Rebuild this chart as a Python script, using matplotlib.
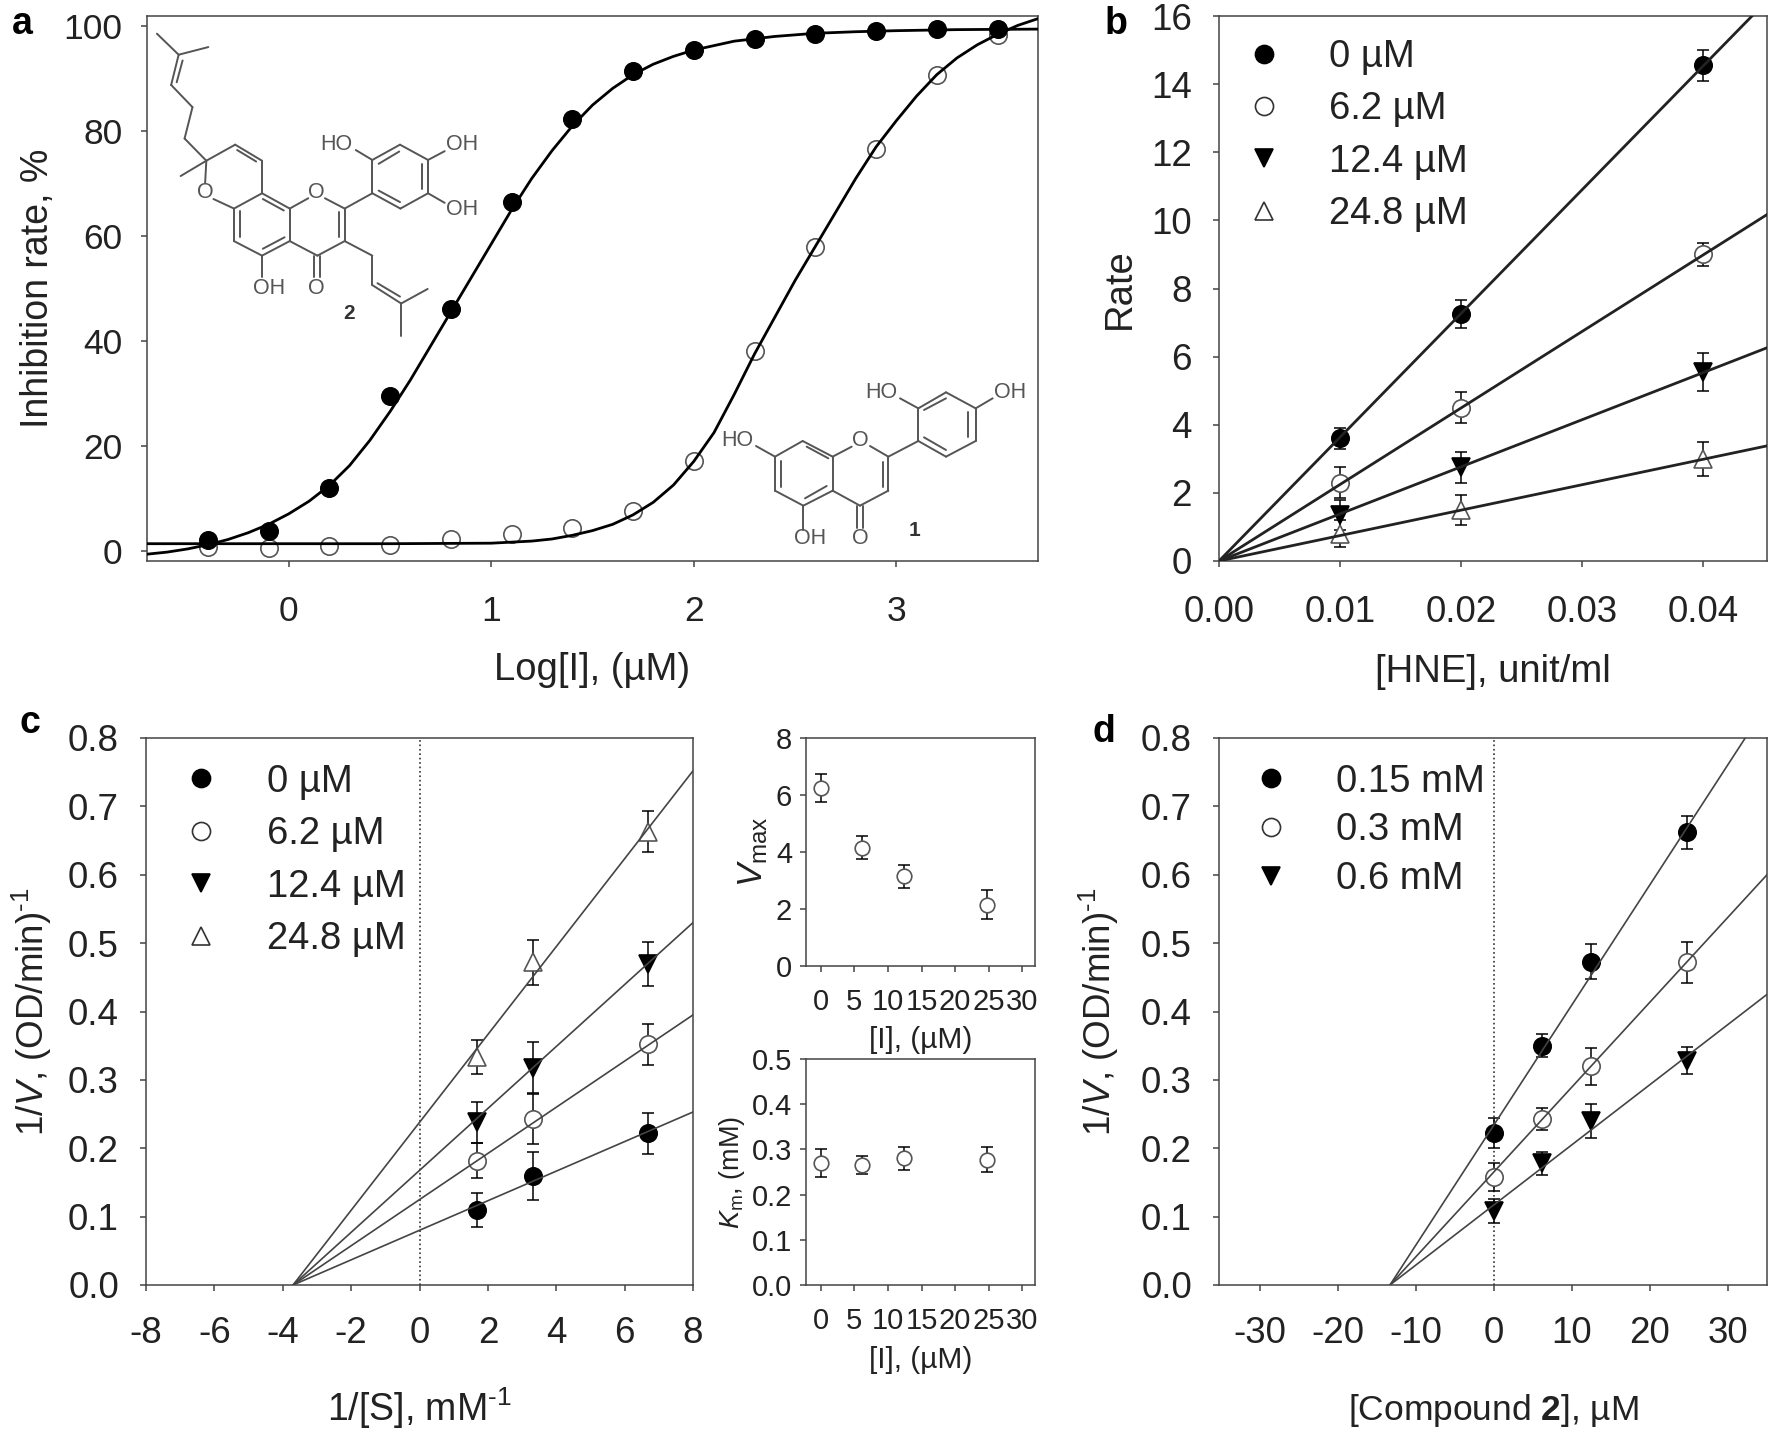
import matplotlib
matplotlib.use('Agg')
import matplotlib.pyplot as plt
from matplotlib.lines import Line2D

plt.rcParams['font.family'] = ['Liberation Sans', 'DejaVu Sans']
plt.rcParams['mathtext.fontset'] = 'custom'
plt.rcParams['mathtext.rm'] = 'Liberation Sans'
plt.rcParams['mathtext.it'] = 'Liberation Sans:italic'
plt.rcParams['mathtext.bf'] = 'Liberation Sans:bold'
plt.rcParams['mathtext.default'] = 'regular'
plt.rcParams['axes.unicode_minus'] = False

W, H = 1770, 1435
DARK = '#222222'
GREY = '#555555'

# panel a
log_i = [-0.4, -0.1, 0.2, 0.5, 0.8, 1.1, 1.4, 1.7, 2.0, 2.3, 2.6, 2.9, 3.2, 3.5]
inhib_2 = [2, 3.8, 12, 29.5, 46, 66.5, 82.3, 91.5, 95.5, 97.7, 98.5, 99.2, 99.5, 99.5]
inhib_1 = [0.7, 0.5, 0.8, 1, 2.2, 3.2, 4.3, 7.5, 17, 38, 58, 76.7, 90.8, 98.3]
fit2_x = [-0.7, -0.6, -0.5, -0.4, -0.3, -0.2, -0.1, 0, 0.1, 0.2, 0.3, 0.4, 0.5, 0.6, 0.7, 0.8, 0.9,
          1.0, 1.1, 1.2, 1.3, 1.4, 1.5, 1.6, 1.7, 1.8, 1.9, 2.0, 2.2, 2.4, 2.6, 2.8, 3.0, 3.3, 3.7]
fit2_y = [-0.7, -0.3, 0.3, 1.1, 2.1, 3.4, 5.0, 7.0, 9.4, 12.4, 16.2, 21, 26.5, 32.5, 39, 45.5, 52,
          58.5, 65, 71, 76.3, 81, 85, 88.2, 90.8, 92.8, 94.3, 95.5, 97.2, 98.1, 98.7, 99, 99.2, 99.4, 99.5]
fit1_x = [-0.7, 0.5, 1.0, 1.2, 1.3, 1.4, 1.5, 1.6, 1.7, 1.8, 1.9, 2.0, 2.1, 2.2, 2.3, 2.4, 2.5,
          2.6, 2.7, 2.8, 2.9, 3.0, 3.1, 3.2, 3.3, 3.4, 3.5, 3.6, 3.7]
fit1_y = [1.3, 1.3, 1.4, 1.8, 2.2, 2.9, 3.8, 5.0, 6.8, 9.2, 12.5, 17, 22.5, 29.8, 37.5, 44.5, 51.5,
          58, 64.5, 71, 77, 82, 86.7, 90.8, 94, 96.5, 98.5, 100.2, 101.5]

# panel b
hne = [0.01, 0.02, 0.04]
rate_0 = [3.6, 7.25, 14.55]
rate_0_err = [0.3, 0.4, 0.45]
rate_62 = [2.3, 4.5, 9.0]
rate_62_err = [0.45, 0.45, 0.35]
rate_124 = [1.35, 2.75, 5.55]
rate_124_err = [0.45, 0.45, 0.55]
rate_248 = [0.8, 1.5, 3.0]
rate_248_err = [0.4, 0.45, 0.5]
hne_line = [0, 0.0453]
rate_line_ends = [16.45, 10.17, 6.26, 3.38]
conc_labels = ['0 µM', '6.2 µM', '12.4 µM', '24.8 µM']

# panel c
inv_s = [1.67, 3.33, 6.67]
inv_0 = [0.11, 0.16, 0.222]
inv_0_err = [0.025, 0.035, 0.03]
inv_62 = [0.182, 0.243, 0.352]
inv_62_err = [0.025, 0.037, 0.03]
inv_124 = [0.238, 0.318, 0.47]
inv_124_err = [0.03, 0.037, 0.032]
inv_248 = [0.333, 0.472, 0.663]
inv_248_err = [0.025, 0.033, 0.03]
s_line = [-3.7, 8]
s_line_ends = [0.253, 0.395, 0.53, 0.752]

# insets
inh = [0, 6.2, 12.4, 24.8]
vmax = [6.25, 4.15, 3.15, 2.15]
vmax_err = [0.5, 0.4, 0.4, 0.5]
km = [0.27, 0.265, 0.28, 0.277]
km_err = [0.03, 0.02, 0.025, 0.028]

# panel d
comp = [0, 6.2, 12.4, 24.8]
d_015 = [0.222, 0.35, 0.473, 0.662]
d_015_err = [0.022, 0.017, 0.025, 0.024]
d_03 = [0.158, 0.243, 0.32, 0.472]
d_03_err = [0.02, 0.016, 0.027, 0.03]
d_06 = [0.108, 0.178, 0.24, 0.328]
d_06_err = [0.018, 0.017, 0.025, 0.02]
d_line = [-13.3, 35]
d_line_ends = [0.849, 0.6, 0.425]
sub_labels = ['0.15 mM', '0.3 mM', '0.6 mM']

# structure drawings, in crop pixels of the reference
mol2_bonds = [
    (397, 88, 452, 143), (527, 123, 452, 143), (452, 143, 433, 222), (462, 158, 447, 215),
    (433, 222, 487, 280), (487, 280, 467, 362), (467, 362, 522, 420), (522, 420, 457, 460),
    (522, 420, 595, 378), (595, 378, 663, 420), (600, 392, 648, 422), (663, 420, 663, 505),
    (522, 420, 519, 478), (540, 520, 592, 545), (592, 545, 663, 505), (663, 505, 733, 545),
    (665, 520, 718, 550), (733, 545, 780, 518), (822, 518, 872, 545), (592, 545, 592, 630),
    (606, 552, 606, 620), (592, 630, 663, 668), (663, 668, 733, 630), (665, 650, 720, 620),
    (733, 545, 733, 630), (733, 630, 803, 668), (803, 668, 872, 630), (872, 545, 872, 630),
    (858, 555, 858, 618), (795, 668, 795, 725), (810, 668, 810, 725), (663, 668, 663, 725),
    (872, 630, 942, 668), (942, 668, 942, 745), (942, 745, 1015, 793), (955, 740, 1012, 775),
    (1015, 793, 1082, 755), (1015, 793, 1015, 877), (872, 545, 942, 505), (942, 505, 942, 418),
    (942, 418, 1012, 378), (1012, 378, 1083, 418), (1083, 418, 1083, 505), (1083, 505, 1013, 545),
    (1013, 545, 942, 505), (958, 428, 1010, 396), (1068, 428, 1068, 495), (1012, 528, 958, 498),
    (942, 418, 900, 392), (1083, 418, 1125, 395), (1083, 505, 1125, 530),
]
mol2_atoms = [('O', 520, 502), ('O', 800, 502), ('O', 800, 755), ('OH', 680, 755),
              ('HO', 850, 378), ('OH', 1168, 378), ('OH', 1168, 547)]
mol1_bonds = [
    (285, 350, 368, 303), (368, 303, 458, 350), (458, 350, 458, 452), (458, 452, 370, 497),
    (370, 497, 285, 452), (285, 452, 285, 350), (302, 362, 302, 440), (380, 320, 445, 355),
    (375, 475, 440, 438), (458, 350, 515, 320), (570, 318, 625, 350), (625, 350, 625, 452),
    (608, 365, 608, 440), (625, 452, 540, 497), (540, 497, 458, 452), (530, 497, 530, 565),
    (550, 497, 550, 565), (370, 497, 370, 570), (285, 350, 228, 318), (625, 350, 715, 303),
    (715, 303, 715, 205), (715, 205, 798, 157), (798, 157, 887, 205), (887, 205, 887, 303),
    (887, 303, 798, 350), (798, 350, 715, 303), (732, 210, 798, 175), (865, 215, 865, 290),
    (732, 292, 798, 330), (715, 205, 660, 175), (887, 205, 938, 175),
]
mol1_atoms = [('O', 540, 300), ('O', 540, 597), ('OH', 390, 597), ('HO', 172, 303),
              ('HO', 603, 157), ('OH', 990, 157)]


def axpx(l, r, t, b):
    a = fig.add_axes([l / W, 1 - b / H, (r - l) / W, (b - t) / H])
    a.box_px = (l, r, t, b)
    return a


def style(ax, size=26.5, tick=4.5, xpad=18, ypad=15):
    for s in ax.spines.values():
        s.set_color('#444444')
        s.set_linewidth(1.1)
    ax.tick_params(direction='out', length=tick, width=1.1, color='#444444',
                   labelsize=size, labelcolor=DARK)
    ax.tick_params(axis='x', pad=xpad)
    ax.tick_params(axis='y', pad=ypad)


def labels(ax, xtext, ytext, xsize, ysize, xtop, yright):
    # xtop and yright are the figure pixels where the axis titles sit
    l, r, t, b = ax.box_px
    ax.set_xlabel(xtext, fontsize=xsize, color=DARK)
    ax.set_ylabel(ytext, fontsize=ysize, color=DARK)
    ax.xaxis.set_label_coords(0.5, (b - xtop) / (b - t))
    ax.yaxis.set_label_coords((yright - l) / (r - l), 0.5)


def points(ax, x, y, err, marker, face, ms=12.5):
    ax.errorbar(x, y, yerr=err, fmt='none', ecolor='black', elinewidth=1.1, capsize=4, capthick=1.1, zorder=3)
    ax.plot(x, y, ls='none', marker=marker, mfc=face, mec=GREY if face != 'black' else 'black',
            mew=1.2, ms=ms, zorder=4)


def key(ax, names, styles, anchor, spacing):
    handles = [Line2D([], [], ls='none', marker=m, mfc=f, mec='#333333' if f != 'black' else 'black',
                      mew=1.2, ms=13) for m, f in styles]
    ax.legend(handles, names, loc='upper left', bbox_to_anchor=anchor, frameon=False, fontsize=27.5,
              labelspacing=spacing, handlelength=1, handletextpad=1.21, borderaxespad=0, borderpad=0,
              labelcolor=DARK)


fig = plt.figure(figsize=(W / 100, H / 100), dpi=100)

four = [('o', 'black'), ('o', 'white'), ('v', 'black'), ('^', 'white')]

# a
ax = axpx(147, 1038, 16, 561)
ax.plot(fit2_x, fit2_y, color='black', lw=2, zorder=5)
ax.plot(fit1_x, fit1_y, color='black', lw=2, zorder=5)
points(ax, log_i, inhib_1, None, 'o', 'none')
points(ax, log_i, inhib_2, None, 'o', 'black')
ax.set_xlim(-0.7, 3.7)
ax.set_ylim(-2, 102)
ax.set_xticks([0, 1, 2, 3])
ax.set_yticks([0, 20, 40, 60, 80, 100])
style(ax, size=25.5, xpad=20, ypad=13)
labels(ax, 'Log[I], (µM)', 'Inhibition rate, %', 27.5, 27, 652, 56)

# b
ax = axpx(1219, 1767, 16, 561)
for end, y, err, (m, f) in zip(rate_line_ends, [rate_0, rate_62, rate_124, rate_248],
                               [rate_0_err, rate_62_err, rate_124_err, rate_248_err], four):
    ax.plot(hne_line, [0, end], color='#222222', lw=2, zorder=5)
    points(ax, hne, y, err, m, f)
ax.set_xlim(0, 0.0453)
ax.set_ylim(0, 16)
ax.set_xticks([0, 0.01, 0.02, 0.03, 0.04])
ax.set_xticklabels(['0.00', '0.01', '0.02', '0.03', '0.04'])
ax.set_yticks(range(0, 17, 2))
style(ax, xpad=20)
labels(ax, '[HNE], unit/ml', 'Rate', 27.5, 27.5, 654, 1138)
key(ax, conc_labels, four, (0.047, 0.958), 0.43)

# c
ax = axpx(146, 693, 738, 1285)
for end, y, err, (m, f) in zip(s_line_ends, [inv_0, inv_62, inv_124, inv_248],
                               [inv_0_err, inv_62_err, inv_124_err, inv_248_err], four):
    ax.plot(s_line, [0, end], color='#444444', lw=1.2, zorder=5)
    points(ax, inv_s, y, err, m, f)
ax.axvline(0, color='#333333', lw=1.2, ls=':')
ax.set_xlim(-8, 8)
ax.set_ylim(0, 0.8)
ax.set_xticks(range(-8, 9, 2))
ax.set_yticks([i / 10 for i in range(9)])
style(ax)
labels(ax, '1/[S], mM$^{\u20101}$', '1/$\\mathit{V}$, (OD/min)$^{\u20101}$', 27, 26.5, 1385, 54)
key(ax, conc_labels, four, (0.066, 0.953), 0.43)

# insets
ax = axpx(806, 1035, 738, 966)
points(ax, inh, vmax, vmax_err, 'o', 'white', ms=10.5)
ax.set_xlim(-2.2, 31.9)
ax.set_ylim(0, 8)
ax.set_xticks(range(0, 31, 5))
ax.set_yticks([0, 2, 4, 6, 8])
style(ax, size=21, tick=4, xpad=12, ypad=6)
labels(ax, '[I], (µM)', '$\\mathit{V}_{max}$', 21.5, 25, 1026, 770)

ax = axpx(806, 1035, 1059, 1285)
points(ax, inh, km, km_err, 'o', 'white', ms=10.5)
ax.set_xlim(-2.2, 31.9)
ax.set_ylim(0, 0.5)
ax.set_xticks(range(0, 31, 5))
ax.set_yticks([0, 0.1, 0.2, 0.3, 0.4, 0.5])
style(ax, size=21, tick=4, xpad=12, ypad=6)
labels(ax, '[I], (µM)', '$\\mathit{K}_{m}$, (mM)', 21.5, 19.5, 1346, 747)

# d
ax = axpx(1219, 1767, 738, 1285)
three = four[:3]
for end, y, err, (m, f) in zip(d_line_ends, [d_015, d_03, d_06], [d_015_err, d_03_err, d_06_err], three):
    ax.plot(d_line, [0, end], color='#444444', lw=1.2, zorder=5)
    points(ax, comp, y, err, m, f)
ax.axvline(0, color='#333333', lw=1.2, ls=':')
ax.set_xlim(-35.2, 35)
ax.set_ylim(0, 0.8)
ax.set_xticks([-30, -20, -10, 0, 10, 20, 30])
ax.set_yticks([i / 10 for i in range(9)])
style(ax)
labels(ax, '[Compound $\\mathbf{2}$], µM', '1/$\\mathit{V}$, (OD/min)$^{\u20101}$', 25.5, 26.5, 1392, 1121)
key(ax, sub_labels, three, (0.06, 0.953), 0.33)

# overlay for structures and panel letters
top = fig.add_axes([0, 0, 1, 1], zorder=10)
top.set_xlim(0, W)
top.set_ylim(H, 0)
top.axis('off')
top.patch.set_alpha(0)


def draw_mol(bonds, atoms, conv):
    for x0, y0, x1, y1 in bonds:
        a = conv(x0, y0)
        b = conv(x1, y1)
        top.plot([a[0], b[0]], [a[1], b[1]], color=GREY, lw=1.4, solid_capstyle='round')
    for s, x, y in atoms:
        px, py = conv(x, y)
        top.text(px, py, s, color=GREY, fontsize=15.5, ha='center', va='center')


def conv2(x, y):
    return x / 2.53, y / 2.613


def conv1(x, y):
    return 680 + x / 3, 340 + y / 3


draw_mol(mol2_bonds, mol2_atoms, conv2)
draw_mol(mol1_bonds, mol1_atoms, conv1)
top.text(*conv2(882, 820), '2', color='#333333', fontsize=15, fontweight='bold', ha='center', va='center')
top.text(*conv1(705, 572), '1', color='#333333', fontsize=15, fontweight='bold', ha='center', va='center')

for s, x, y in [('a', 22, 24), ('b', 1116, 24), ('c', 30, 723), ('d', 1104, 732)]:
    top.text(x, y, s, fontsize=27, fontweight='bold', color='black', ha='center', va='center')

fig.savefig('out.png', dpi=100)
